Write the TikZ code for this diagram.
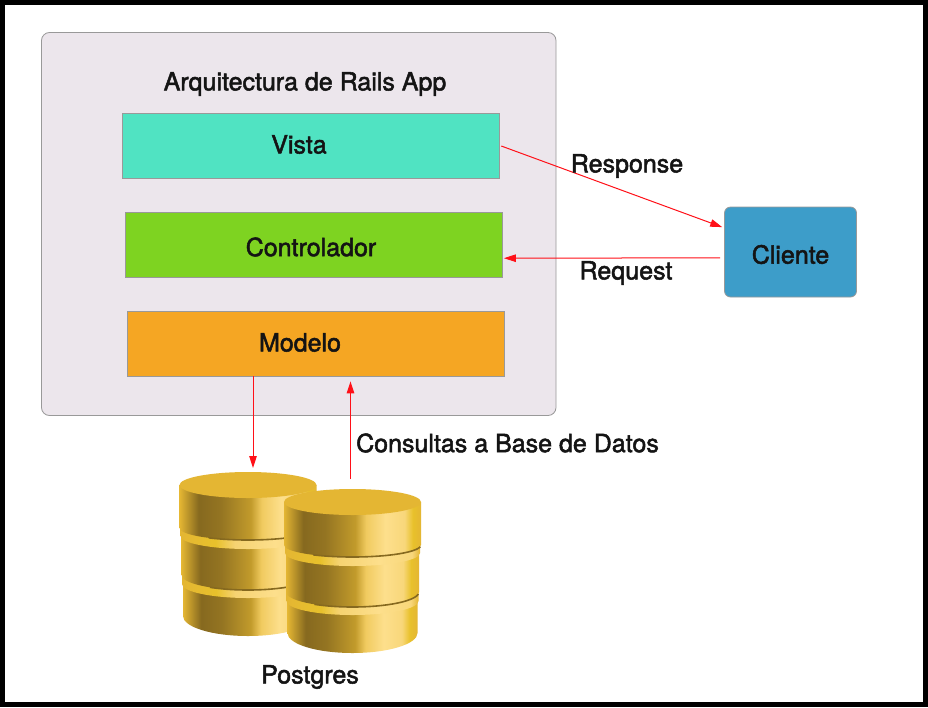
\documentclass[tikz,border=0pt]{standalone}
\usepackage{fontspec}
\usetikzlibrary{arrows.meta}
\setmainfont[FakeBold=2]{TeX Gyre Heros}
\definecolor{appgray}{HTML}{ECE6EC}
\definecolor{edgegray}{HTML}{999999}
\definecolor{vistacol}{HTML}{50E3C2}
\definecolor{ctrlcol}{HTML}{7ED321}
\definecolor{modelcol}{HTML}{F5A623}
\definecolor{clientcol}{HTML}{3D9DC9}
\definecolor{linkred}{HTML}{FF1018}
\definecolor{dbtop}{HTML}{E4B633}
\definecolor{dbcrease}{HTML}{86691F}
\definecolor{dbglow}{HTML}{FDDF8C}
\pgfdeclarehorizontalshading{dbbody}{100bp}{
  color(0bp)=(dbtop); color(25bp)=(dbtop);
  color(32bp)=(dbcrease); color(40bp)=(dbcrease!85!dbtop);
  color(51bp)=(dbtop!85!black); color(55bp)=(dbglow!50!dbtop);
  color(62bp)=(dbglow); color(69bp)=(dbglow!80!dbtop);
  color(72bp)=(dbtop!85!yellow); color(75bp)=(dbtop); color(100bp)=(dbtop)}
\pgfdeclarehorizontalshading{dbband}{100bp}{
  color(0bp)=(dbtop); color(25bp)=(dbtop);
  color(38bp)=(dbtop!85!yellow); color(45bp)=(dbglow!70!dbtop);
  color(60bp)=(dbglow); color(72bp)=(dbglow!80!dbtop);
  color(75bp)=(dbtop); color(100bp)=(dbtop)}
\newcommand{\dbtier}[5]{
  \shade[shading=#5] (-#1,#2) -- (-#1,#3)
    arc[start angle=180, end angle=0, x radius=#1, y radius=#4] -- (#1,#2) -- cycle;
}
\newcommand{\dbcrease}[3]{
  \draw[dbcrease, line width=1.6pt, shift={(0,#2)}] (125:#1 and #3)
    arc[start angle=125, end angle=8, x radius=#1, y radius=#3];
}
\newcommand{\dbstack}[2]{
  \begin{scope}[shift={(#1,#2)}]
  \dbtier{65}{85}{131}{20}{dbbody}
  \dbtier{66}{80}{99}{14}{dbband}
  \dbtier{66.5}{40}{90}{15}{dbbody}
  \dbcrease{66.5}{90}{15}
  \dbtier{67.5}{35}{51}{13}{dbband}
  \dbtier{68.5}{0}{43}{12}{dbbody}
  \dbcrease{68.5}{43}{12}
  \fill[dbtop] (0,0) ellipse[x radius=68.5, y radius=13];
  \end{scope}
}

\begin{document}
\begin{tikzpicture}[x=1pt, y=-1pt,
  layer/.style={draw=edgegray, line width=0.8pt, minimum width=377pt, minimum height=65pt, inner sep=0pt},
  lbl/.style={font=\fontsize{25}{28}\selectfont, text=black!92, inner sep=0pt},
  link/.style={draw=linkred, line width=1pt, -{Triangle[length=12pt, width=7.5pt]}}]
\useasboundingbox (0,0) rectangle (928,707);
% ----- frame -----
\fill[black] (0,0) rectangle (928,707);
\fill[white] (5,5) rectangle (923,702);
% ----- app box with its three layers -----
\node[draw=edgegray, fill=appgray, line width=0.8pt, rounded corners=8pt, minimum width=514.5pt, minimum height=383pt, inner sep=0pt] (app) at (298.75,224) {};
\node[lbl] (applbl) at (305,84) {Arquitectura de Rails App};
\foreach \nm/\cx/\cy/\col/\tx/\ty/\txt in {vista/311/145.5/vistacol/299/144.5/Vista, controlador/314/245/ctrlcol/311/247/Controlador, modelo/316/343.5/modelcol/300/342.5/Modelo}{
  \node[layer, fill=\col] (\nm) at (\cx,\cy) {};
  \node[lbl] (\nm lbl) at (\tx,\ty) {\txt};
}
% ----- client -----
\node[draw=edgegray, fill=clientcol, line width=0.8pt, rounded corners=6pt, minimum width=132pt, minimum height=90pt, inner sep=0pt] (cliente) at (790.5,252) {};
\node[lbl] (clientelbl) at (790.5,254.5) {Cliente};
% ----- database stacks -----
\dbstack{248}{485}
\dbstack{352.5}{502}
\node[lbl] (postgres) at (310,677) {Postgres};
\coordinate (dbleft) at (253,468);
\coordinate (dbright) at (350.5,479);
% ----- connectors -----
\draw[link, shorten <=1.5pt, shorten >=2pt] (vista.east) -- (cliente.160);
\draw[link, shorten <=4pt, shorten >=1pt] (cliente.185.6) -- (controlador.-4);
\draw[link] (modelo.south -| dbleft) -- (dbleft);
\draw[link, shorten >=5pt] (dbright) -- (modelo.south -| dbright);
\node[lbl] (resp) at (627,166) {Response};
\node[lbl] (req) at (626,273) {Request};
\node[lbl] (query) at (507.5,443) {Consultas a Base de Datos};
\end{tikzpicture}
\end{document}
